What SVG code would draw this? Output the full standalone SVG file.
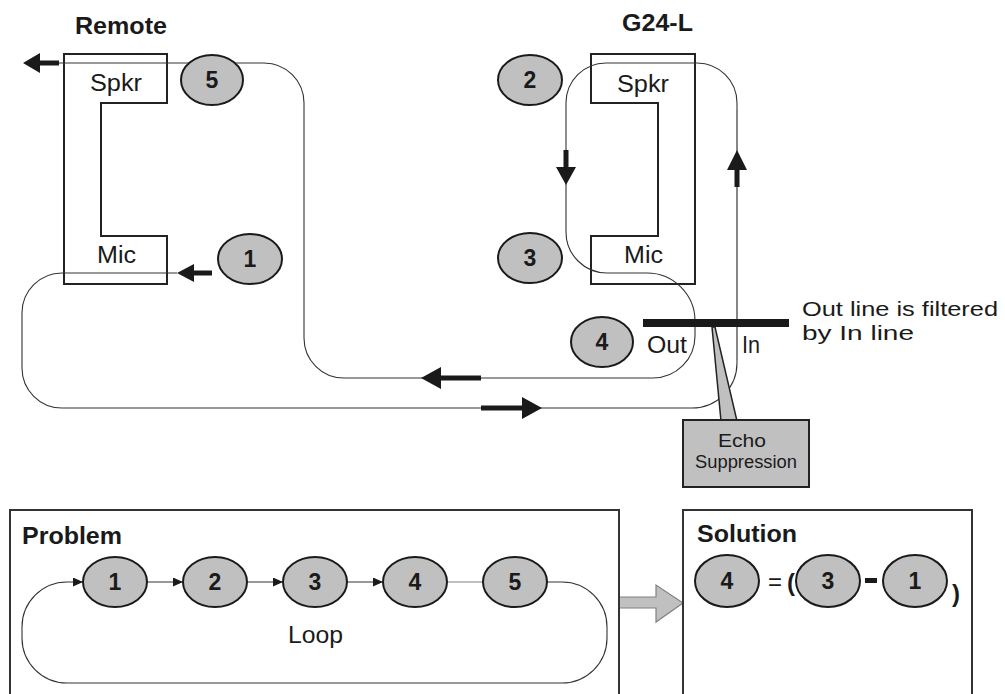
<svg xmlns="http://www.w3.org/2000/svg" width="1005" height="694" viewBox="0 0 1005 694">
<defs>
<style>
.t{font-family:"Liberation Sans",Arial,sans-serif;fill:#1a1a1a}
.b{font-weight:bold}
.dev{fill:none;stroke:#222;stroke-width:2}
.ell{fill:#c0c0c0;stroke:#1a1a1a;stroke-width:2}
.ln{fill:none;stroke:#333;stroke-width:1.1}
.lg{fill:none;stroke:#808080;stroke-width:1.2}
.arr{fill:#1a1a1a}
.num{font-family:"Liberation Sans",Arial,sans-serif;font-weight:bold;font-size:23px;fill:#1a1a1a;text-anchor:middle}
</style>
<marker id="ah" markerWidth="10" markerHeight="9" refX="10" refY="4.5" orient="auto" markerUnits="userSpaceOnUse">
<path d="M0,0 L10,4.5 L0,9 z" fill="#1a1a1a"/>
</marker>
</defs>
<rect width="1005" height="694" fill="#fff"/>

<g id="titles">
<text class="t b" x="75" y="34" font-size="23" textLength="92" lengthAdjust="spacingAndGlyphs">Remote</text>
<text class="t b" x="622" y="31" font-size="23" textLength="71" lengthAdjust="spacingAndGlyphs">G24-L</text>
</g>

<g id="remote">
<path class="dev" d="M64 54 H167 V103 H101 V236 H167 V284 H64 Z"/>
<text class="t" x="90" y="91" font-size="23" textLength="52" lengthAdjust="spacingAndGlyphs">Spkr</text>
<text class="t" x="97" y="263" font-size="23" textLength="39" lengthAdjust="spacingAndGlyphs">Mic</text>
</g>

<g id="g24l">
<path class="dev" d="M591 54 H695 V284 H591 V236 H658 V103 H591 Z"/>
<text class="t" x="617" y="92" font-size="23" textLength="52" lengthAdjust="spacingAndGlyphs">Spkr</text>
<text class="t" x="624" y="263" font-size="23" textLength="39" lengthAdjust="spacingAndGlyphs">Mic</text>
</g>

<g id="connectors">
<path class="ln" d="M59 63 H264 A40 40 0 0 1 304 103 V338 A40 40 0 0 0 344 378 H653 A42 42 0 0 0 695 336 V321 A48 48 0 0 0 647 273 H607 A41 41 0 0 1 566 232 V103 A40 40 0 0 1 606 63 H697 A40 40 0 0 1 737 103 V363 A45 45 0 0 1 692 408 H62 A40 40 0 0 1 22 368 V313 A40 40 0 0 1 62 273 H177"/>
<line class="lg" x1="737" y1="110" x2="737" y2="360"/>
<!-- thick arrows -->
<polygon class="arr" points="23,63 40,53 40,60.5 59,60.5 59,65.5 40,65.5 40,73"/>
<polygon class="arr" points="177,273 194,264 194,270.5 212,270.5 212,275.5 194,275.5 194,282"/>
<polygon class="arr" points="421,378 441,367 441,375.5 481,375.5 481,380.5 441,380.5 441,389"/>
<polygon class="arr" points="542,408 522,397 522,405.5 481,405.5 481,410.5 522,410.5 522,419"/>
<polygon class="arr" points="566,185 556,167 563.5,167 563.5,150 568.5,150 568.5,167 576,167"/>
<polygon class="arr" points="737,150 727,170 734.5,170 734.5,187 739.5,187 739.5,170 747,170"/>
<!-- problem loop -->
<line class="ln" x1="147" y1="582" x2="183" y2="582" marker-end="url(#ah)"/>
<line class="ln" x1="247" y1="582" x2="283" y2="582" marker-end="url(#ah)"/>
<line class="ln" x1="347" y1="582" x2="383" y2="582" marker-end="url(#ah)"/>
<line class="lg" x1="447" y1="582" x2="483" y2="582"/>
<path class="ln" d="M547 582 H562 A45 45 0 0 1 607 627 V638 A45 45 0 0 1 562 683 H67 A45 45 0 0 1 22 638 V627 A45 45 0 0 1 67 582 H83" marker-end="url(#ah)"/>
<polygon points="619,597 656,597 656,585 683,603 656,622 656,608 619,608" fill="#c0c0c0" stroke="#808080" stroke-width="1.2"/>
</g>

<g id="node5"><ellipse class="ell" cx="212" cy="80" rx="31" ry="25"/><text class="num" x="212" y="88">5</text></g>
<g id="node1"><ellipse class="ell" cx="250" cy="259" rx="32" ry="25"/><text class="num" x="250" y="267">1</text></g>
<g id="node2"><ellipse class="ell" cx="530" cy="80" rx="32" ry="25"/><text class="num" x="530" y="88">2</text></g>
<g id="node3"><ellipse class="ell" cx="530" cy="258" rx="32" ry="25"/><text class="num" x="530" y="266">3</text></g>
<g id="node4"><ellipse class="ell" cx="602" cy="342" rx="31" ry="25"/><text class="num" x="602" y="350">4</text></g>

<g id="echo">
<rect x="643" y="319" width="146" height="8" fill="#1a1a1a"/>
<text class="t" x="647" y="353" font-size="23" textLength="40" lengthAdjust="spacingAndGlyphs">Out</text>
<text class="t" x="742" y="353" font-size="23" textLength="18" lengthAdjust="spacingAndGlyphs">In</text>
<polygon points="712,327 715,327 737,421 721,421" fill="#c0c0c0" stroke="#222" stroke-width="1.5"/>
<rect x="683" y="420" width="126" height="67" fill="#c0c0c0" stroke="#222" stroke-width="2"/>
<text class="t" x="718" y="447" font-size="19" textLength="48" lengthAdjust="spacingAndGlyphs">Echo</text>
<text class="t" x="695" y="468" font-size="18" textLength="102" lengthAdjust="spacingAndGlyphs">Suppression</text>
</g>

<g id="note">
<text class="t" x="802" y="316" font-size="21" textLength="196" lengthAdjust="spacingAndGlyphs">Out line is filtered</text>
<text class="t" x="802" y="340" font-size="21" textLength="112" lengthAdjust="spacingAndGlyphs">by In line</text>
</g>

<g id="problem">
<rect x="10" y="510" width="609" height="200" fill="none" stroke="#333" stroke-width="2"/>
<text class="t b" x="22" y="544" font-size="23" textLength="100" lengthAdjust="spacingAndGlyphs">Problem</text>
<text class="t" x="288" y="643" font-size="23" textLength="55" lengthAdjust="spacingAndGlyphs">Loop</text>
</g>
<g id="p1"><ellipse class="ell" cx="115" cy="582" rx="32" ry="25"/><text class="num" x="115" y="590">1</text></g>
<g id="p2"><ellipse class="ell" cx="215" cy="582" rx="32" ry="25"/><text class="num" x="215" y="590">2</text></g>
<g id="p3"><ellipse class="ell" cx="315" cy="582" rx="32" ry="25"/><text class="num" x="315" y="590">3</text></g>
<g id="p4"><ellipse class="ell" cx="415" cy="582" rx="32" ry="25"/><text class="num" x="415" y="590">4</text></g>
<g id="p5"><ellipse class="ell" cx="515" cy="582" rx="32" ry="25"/><text class="num" x="515" y="590">5</text></g>

<g id="solution">
<rect x="683" y="510" width="289" height="200" fill="none" stroke="#333" stroke-width="2"/>
<text class="t b" x="697" y="542" font-size="23" textLength="100" lengthAdjust="spacingAndGlyphs">Solution</text>
<g id="s4"><ellipse class="ell" cx="727" cy="581" rx="32" ry="26"/><text class="num" x="727" y="589">4</text></g>
<text class="t" x="775" y="590" font-size="24" text-anchor="middle">=</text>
<text class="t b" x="791" y="591" font-size="24" text-anchor="middle">(</text>
<g id="s3"><ellipse class="ell" cx="828" cy="581" rx="32" ry="26"/><text class="num" x="828" y="589">3</text></g>
<rect x="865" y="578" width="12" height="5" fill="#1a1a1a"/>
<g id="s1"><ellipse class="ell" cx="915" cy="581" rx="32" ry="26"/><text class="num" x="915" y="589">1</text></g>
<text class="t b" x="956" y="602" font-size="24" text-anchor="middle">)</text>
</g>
</svg>
